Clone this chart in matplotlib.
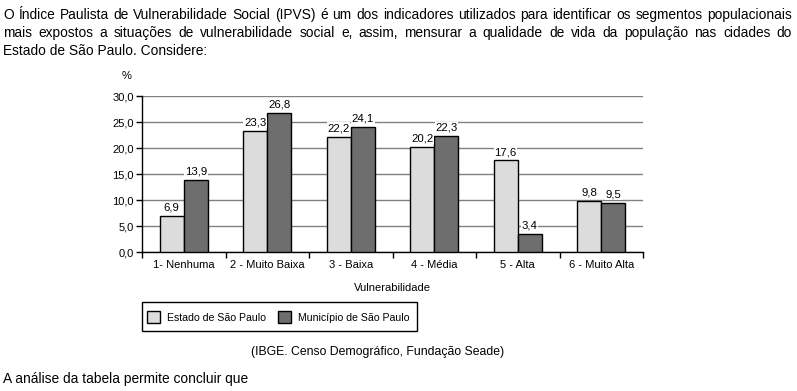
import numpy as np
import matplotlib
matplotlib.use("Agg")
import matplotlib.pyplot as plt
from matplotlib.patches import Patch, Rectangle

plt.rcParams["font.family"] = ["Liberation Sans", "DejaVu Sans"]

categories = ["1- Nenhuma", "2 - Muito Baixa", "3 - Baixa", "4 - Média", "5 - Alta", "6 - Muito Alta"]
estado = [6.9, 23.3, 22.2, 20.2, 17.6, 9.8]
municipio = [13.9, 26.8, 24.1, 22.3, 3.4, 9.5]
series_names = ["Estado de São Paulo", "Município de São Paulo"]
yticks = [0, 5, 10, 15, 20, 25, 30]

paragraph = [
    "O Índice Paulista de Vulnerabilidade Social (IPVS) é um dos indicadores utilizados para identificar os segmentos populacionais",
    "mais expostos a situações de vulnerabilidade social e, assim, mensurar a qualidade de vida da população nas cidades do",
    "Estado de São Paulo. Considere:",
]
source = "(IBGE. Censo Demográfico, Fundação Seade)"
closing = "A análise da tabela permite concluir que"

W, H = 797, 391
fig = plt.figure(figsize=(W / 100, H / 100), dpi=100)
light, dark = "#dcdcdc", "#6e6e6e"


def px(x, y):
    return x / W, 1 - y / H


# paragraph, justified for the first two lines
renderer = fig.canvas.get_renderer()
fs_par = 9.9
baselines = [19, 37, 55]
for li, line in enumerate(paragraph):
    if li == len(paragraph) - 1:
        fig.text(*px(3, baselines[li]), line, fontsize=fs_par, va="baseline", ha="left")
        continue
    words = line.split(" ")
    widths = []
    for w in words:
        t = fig.text(0, 0, w, fontsize=fs_par)
        widths.append(t.get_window_extent(renderer).width)
        t.remove()
    gap = (792 - 3 - sum(widths)) / (len(words) - 1)
    x = 3
    for w, wd in zip(words, widths):
        fig.text(*px(x, baselines[li]), w, fontsize=fs_par, va="baseline", ha="left")
        x += wd + gap

ax = fig.add_axes([142 / W, 1 - 252 / H, (643 - 142) / W, (252 - 96) / H])
x = np.arange(len(categories))
bw = 0.29
b1 = ax.bar(x - bw / 2, estado, bw, color=light, edgecolor="black", linewidth=1, zorder=3)
b2 = ax.bar(x + bw / 2, municipio, bw, color=dark, edgecolor="black", linewidth=1, zorder=3)
for bars, vals in [(b1, estado), (b2, municipio)]:
    for b, v in zip(bars, vals):
        ax.annotate(f"{v:.1f}".replace(".", ","), (b.get_x() + b.get_width() / 2, v),
                    xytext=(0, 2.5), textcoords="offset points", ha="center", va="bottom",
                    fontsize=8.2, zorder=4,
                    bbox=dict(facecolor="white", edgecolor="none", pad=0.5))

ax.set_xlim(-0.5, len(categories) - 0.5)
ax.set_ylim(0, 30)
ax.set_yticks(yticks)
ax.set_yticklabels([f"{v:.1f}".replace(".", ",") for v in yticks], fontsize=8)
ax.set_xticks(np.arange(len(categories) + 1) - 0.5)
ax.set_xticklabels([])
ax.set_xticks(x, categories, minor=True, fontsize=8)
ax.tick_params(axis="x", which="minor", length=0, pad=6)
ax.tick_params(axis="x", which="major", length=4, width=1)
ax.tick_params(axis="y", length=4, width=1, pad=2)
ax.grid(axis="y", color="#808080", linewidth=1, zorder=0)
for s in ["top", "right"]:
    ax.spines[s].set_visible(False)
ax.spines["left"].set_linewidth(1)
ax.spines["bottom"].set_linewidth(1)

fig.text(*px(127, 79), "%", fontsize=8, ha="center", va="baseline")
fig.text(*px(392, 291), "Vulnerabilidade", fontsize=8, ha="center", va="baseline")

# legend: entries via fig.legend, frame drawn as its own box
handles = [Patch(facecolor=light, edgecolor="black"), Patch(facecolor=dark, edgecolor="black")]
fig.legend(handles, series_names, loc="center left", bbox_to_anchor=px(147, 317), ncol=2,
           frameon=False, fontsize=7.6,
           handlelength=1.25, handleheight=1.25, handletextpad=0.6, columnspacing=1.2,
           borderpad=0, borderaxespad=0)
x0, y0 = px(142, 331)
x1, y1 = px(417, 302)
fig.patches.append(Rectangle((x0, y0), x1 - x0, y1 - y0, transform=fig.transFigure,
                             facecolor="none", edgecolor="black", linewidth=1))

fig.text(*px(378, 355), source, fontsize=8.8, ha="center", va="baseline")
fig.text(*px(3, 383), closing, fontsize=fs_par, ha="left", va="baseline")

fig.savefig("out.png", dpi=100)
